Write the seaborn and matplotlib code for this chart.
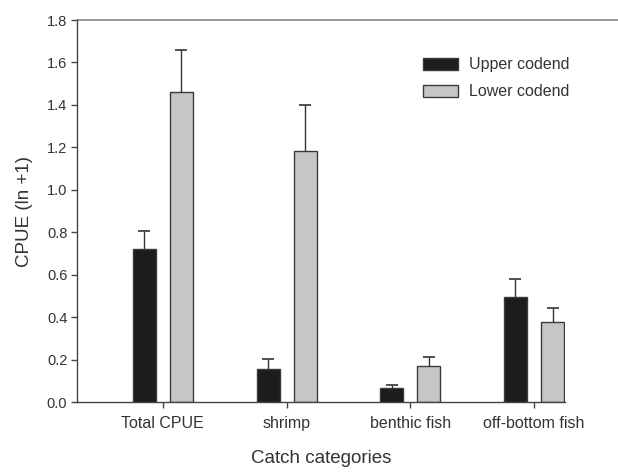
import pandas as pd
import matplotlib.pyplot as plt
import seaborn as sns

# data
categories = ['Total CPUE', 'shrimp', 'benthic fish', 'off-bottom fish']
groups = ['Upper codend', 'Lower codend']
upper_mean = [0.72, 0.155, 0.064, 0.496]
upper_se = [0.085, 0.049, 0.016, 0.084]
lower_mean = [1.462, 1.183, 0.17, 0.378]
lower_se = [0.197, 0.217, 0.042, 0.065]

df = pd.DataFrame({
    'category': categories * 2,
    'group': [groups[0]] * 4 + [groups[1]] * 4,
    'cpue': upper_mean + lower_mean,
})
errors = [upper_se, lower_se]

sns.set_style('ticks')
plt.rcParams['font.family'] = ['Liberation Sans', 'DejaVu Sans']

fig = plt.figure(figsize=(6.18, 4.72), dpi=100)
ax = fig.add_axes([0.1246, 0.1483, 0.7896, 0.8093])

sns.barplot(data=df, x='category', y='cpue', hue='group', order=categories,
            hue_order=groups, palette=['#1c1c1c', '#c6c6c6'],
            width=0.6, gap=0.38, errorbar=None, edgecolor='#3a3a3a',
            linewidth=1.0, ax=ax)

# one-sided error bars (upper only), drop the lower cap
for cont, err in zip(ax.containers, errors):
    for bar, e in zip(cont, err):
        xc = bar.get_x() + bar.get_width() / 2
        h = bar.get_height()
        _, caps, _ = ax.errorbar(xc, h, yerr=[[0], [e]], fmt='none', ecolor='#333333',
                                 elinewidth=1.0, capsize=4, capthick=1.2)
        caps[0].set_visible(False)

ax.set_ylim(0, 1.8)
ax.set_xlim(-0.694, 3.25)
ax.set_yticks([0.0, 0.2, 0.4, 0.6, 0.8, 1.0, 1.2, 1.4, 1.6, 1.8])
ax.set_yticklabels(['0.0', '0.2', '0.4', '0.6', '0.8', '1.0', '1.2', '1.4', '1.6', '1.8'])
ax.tick_params(axis='y', labelsize=10.5, length=4, width=1, color='#444444',
               labelcolor='#333333', pad=3)
ax.tick_params(axis='x', labelsize=11.5, length=4, width=1, color='#444444',
               labelcolor='#333333', pad=6)

for s in ['left', 'bottom']:
    ax.spines[s].set_color('#444444')
    ax.spines[s].set_linewidth(1.0)
ax.spines['right'].set_visible(False)
ax.spines['top'].set_visible(False)
# top frame line runs off to the right edge in the reference
ax.axhline(1.8, xmin=0, xmax=1.2, color='#888888', lw=1.2, clip_on=False)

ax.set_xlabel('Catch categories', fontsize=13.5, color='#333333', labelpad=14)
ax.set_ylabel('CPUE (ln +1)', fontsize=13.5, color='#333333', labelpad=10)

leg = ax.legend(loc='upper left', bbox_to_anchor=(0.709, 0.902), frameon=False,
                fontsize=11.5, handlelength=2.2, handleheight=0.8,
                handletextpad=0.7, labelspacing=0.75, borderpad=0, borderaxespad=0)
for t in leg.get_texts():
    t.set_color('#333333')

fig.savefig('out.png', dpi=100)
